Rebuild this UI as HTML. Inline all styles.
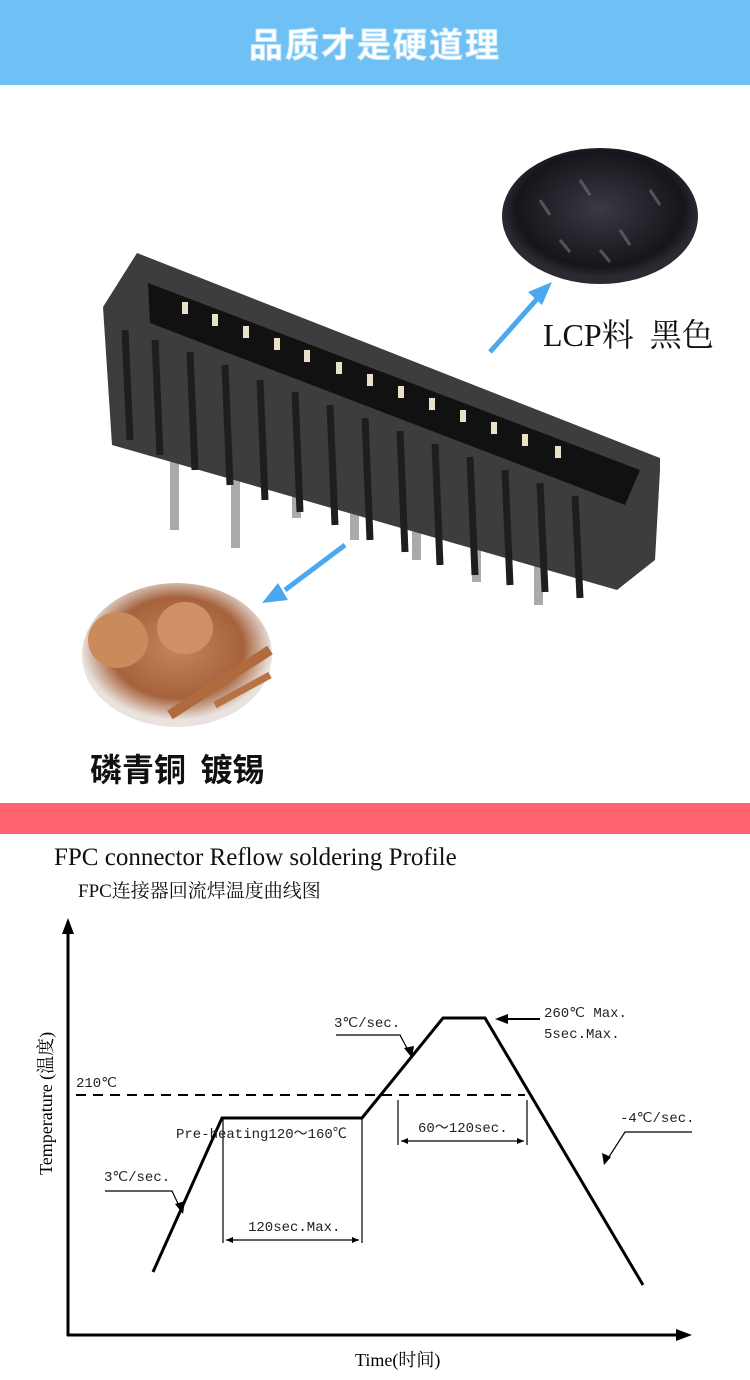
<!DOCTYPE html>
<html><head><meta charset="utf-8"><style>
body{margin:0;width:750px;height:1380px;background:#fff;overflow:hidden;position:relative;font-family:"Liberation Serif","Noto Serif CJK SC",serif}
.bar1{position:absolute;left:0;top:0;width:750px;height:85px;background:#6fc0f5}
.bar1 span{position:absolute;left:0;width:750px;top:18px;text-align:center;font:bold 34px "Noto Sans CJK SC",sans-serif;color:#fff;letter-spacing:2px;-webkit-text-stroke:1px #c9e8fb}
.bar2{position:absolute;left:0;top:803px;width:750px;height:31px;background:#ff6370}
.t{position:absolute;white-space:nowrap;color:#111}
</style></head><body>
<div class="bar1"><span>品质才是硬道理</span></div>
<svg width="750" height="800" style="position:absolute;left:0;top:0">
<defs>
<radialGradient id="bk" cx="50%" cy="45%"><stop offset="0" stop-color="#3a3a44"/><stop offset=".85" stop-color="#15151b"/><stop offset="1" stop-color="#2a2a30"/></radialGradient>
<radialGradient id="cu" cx="50%" cy="45%"><stop offset="0" stop-color="#c8855a"/><stop offset=".7" stop-color="#a6623c"/><stop offset="1" stop-color="#e9e2de"/></radialGradient>
</defs>
<ellipse cx="600" cy="216" rx="98" ry="68" fill="url(#bk)"/>
<g stroke="#777" stroke-width="3" opacity=".6"><line x1="540" y1="200" x2="550" y2="215"/><line x1="580" y1="180" x2="590" y2="195"/><line x1="620" y1="230" x2="630" y2="245"/><line x1="650" y1="190" x2="660" y2="205"/><line x1="600" y1="250" x2="610" y2="262"/><line x1="560" y1="240" x2="570" y2="252"/></g>
<ellipse cx="177" cy="655" rx="95" ry="72" fill="url(#cu)"/>
<ellipse cx="118" cy="640" rx="30" ry="28" fill="#c98a5c"/>
<ellipse cx="185" cy="628" rx="28" ry="26" fill="#d09065"/>
<line x1="170" y1="715" x2="270" y2="650" stroke="#b06a3e" stroke-width="10"/>
<line x1="215" y1="705" x2="270" y2="675" stroke="#b87248" stroke-width="7"/>
<g fill="#aaa">
<rect x="170" y="450" width="9" height="80"/><rect x="231" y="470" width="9" height="78"/><rect x="292" y="480" width="9" height="38"/><rect x="350" y="500" width="9" height="40"/><rect x="412" y="520" width="9" height="40"/><rect x="472" y="540" width="9" height="42"/><rect x="534" y="555" width="9" height="50"/>
</g>
<polygon points="103,307 137,253 660,458 660,470 655,560 617,590 112,445" fill="#3d3d40"/>
<polygon points="148,283 640,470 625,505 150,323" fill="#111"/>
<g stroke="#1e1e20" stroke-width="7">
<line x1="125" y1="330" x2="130" y2="440"/><line x1="155" y1="340" x2="160" y2="455"/><line x1="190" y1="352" x2="195" y2="470"/><line x1="225" y1="365" x2="230" y2="485"/><line x1="260" y1="380" x2="265" y2="500"/><line x1="295" y1="392" x2="300" y2="512"/><line x1="330" y1="405" x2="335" y2="525"/><line x1="365" y1="418" x2="370" y2="540"/><line x1="400" y1="431" x2="405" y2="552"/><line x1="435" y1="444" x2="440" y2="565"/><line x1="470" y1="457" x2="475" y2="575"/><line x1="505" y1="470" x2="510" y2="585"/><line x1="540" y1="483" x2="545" y2="592"/><line x1="575" y1="496" x2="580" y2="598"/>
</g>
<g fill="#e8e0c8">
<rect x="182" y="302" width="6" height="12"/><rect x="212" y="314" width="6" height="12"/><rect x="243" y="326" width="6" height="12"/><rect x="274" y="338" width="6" height="12"/><rect x="304" y="350" width="6" height="12"/><rect x="336" y="362" width="6" height="12"/><rect x="367" y="374" width="6" height="12"/><rect x="398" y="386" width="6" height="12"/><rect x="429" y="398" width="6" height="12"/><rect x="460" y="410" width="6" height="12"/><rect x="491" y="422" width="6" height="12"/><rect x="522" y="434" width="6" height="12"/><rect x="555" y="446" width="6" height="12"/>
</g>
<line x1="490" y1="352" x2="545" y2="290" stroke="#4aa8ee" stroke-width="5"/>
<polygon points="552,282 528,292 542,305" fill="#4aa8ee"/>
<line x1="345" y1="545" x2="285" y2="590" stroke="#4aa8ee" stroke-width="5"/>
<polygon points="262,603 288,600 278,583" fill="#4aa8ee"/>
</svg>
<div class="t" style="left:543px;top:310px;font-size:32px">LCP料&nbsp;&nbsp;黑色</div>
<div class="t" style="left:90px;top:745px;font:bold 32px 'Noto Sans CJK SC',sans-serif">磷青铜&nbsp;&nbsp;镀锡</div>
<div class="bar2"></div>
<div class="t" style="left:54px;top:844px;font-size:25px">FPC connector Reflow soldering Profile</div>
<div class="t" style="left:78px;top:876px;font-size:19px">FPC连接器回流焊温度曲线图</div>
<svg width="750" height="560" style="position:absolute;left:0;top:820px;font-family:'Liberation Mono','DejaVu Sans Mono',monospace">
<g transform="translate(0,-820)">
<line x1="68" y1="1336" x2="68" y2="930" stroke="#000" stroke-width="3"/>
<polygon points="68,918 62,934 74,934" fill="#000"/>
<line x1="67" y1="1335" x2="680" y2="1335" stroke="#000" stroke-width="3"/>
<polygon points="692,1335 676,1329 676,1341" fill="#000"/>
<line x1="76" y1="1095" x2="525" y2="1095" stroke="#000" stroke-width="2" stroke-dasharray="10,7"/>
<polyline points="153,1272 222,1118 362,1118 443,1018 485,1018 643,1285" fill="none" stroke="#000" stroke-width="3"/>
<g stroke="#000" stroke-width="1.2" fill="none">
<line x1="223" y1="1118" x2="223" y2="1243"/><line x1="362" y1="1118" x2="362" y2="1243"/>
<line x1="226" y1="1240" x2="359" y2="1240"/>
<line x1="398" y1="1100" x2="398" y2="1145"/><line x1="527" y1="1100" x2="527" y2="1145"/>
<line x1="401" y1="1141" x2="524" y2="1141"/>
<polyline points="105,1191 172,1191 181,1210"/>
<polyline points="336,1035 400,1035 410,1054"/>
<polyline points="692,1132 625,1132 607,1160"/>
</g>
<polygon points="183,1214 175,1204 185,1201" fill="#000"/>
<polygon points="412,1058 404,1048 414,1046" fill="#000"/>
<polygon points="604,1165 602,1153 611,1157" fill="#000"/>
<polygon points="226,1240 233,1237 233,1243" fill="#000"/><polygon points="359,1240 352,1237 352,1243" fill="#000"/>
<polygon points="401,1141 408,1138 408,1144" fill="#000"/><polygon points="524,1141 517,1138 517,1144" fill="#000"/>
<line x1="505" y1="1019" x2="540" y2="1019" stroke="#000" stroke-width="2"/>
<polygon points="495,1019 508,1014 508,1024" fill="#000"/>
<g font-size="14" fill="#222">
<text x="76" y="1087">210℃</text>
<text x="176" y="1138">Pre-heating120～160℃</text>
<text x="104" y="1181">3℃/sec.</text>
<text x="248" y="1231">120sec.Max.</text>
<text x="334" y="1027">3℃/sec.</text>
<text x="418" y="1132">60～120sec.</text>
<text x="544" y="1017">260℃ Max.</text>
<text x="544" y="1038">5sec.Max.</text>
<text x="620" y="1122">-4℃/sec.</text>
</g>
<text transform="translate(52,1175) rotate(-90)" font-size="18" font-family="'Liberation Serif','Noto Serif CJK SC',serif">Temperature (温度)</text>
<text x="355" y="1366" font-size="18" font-family="'Liberation Serif','Noto Serif CJK SC',serif">Time(时间)</text>
</g>
</svg>
</body></html>
